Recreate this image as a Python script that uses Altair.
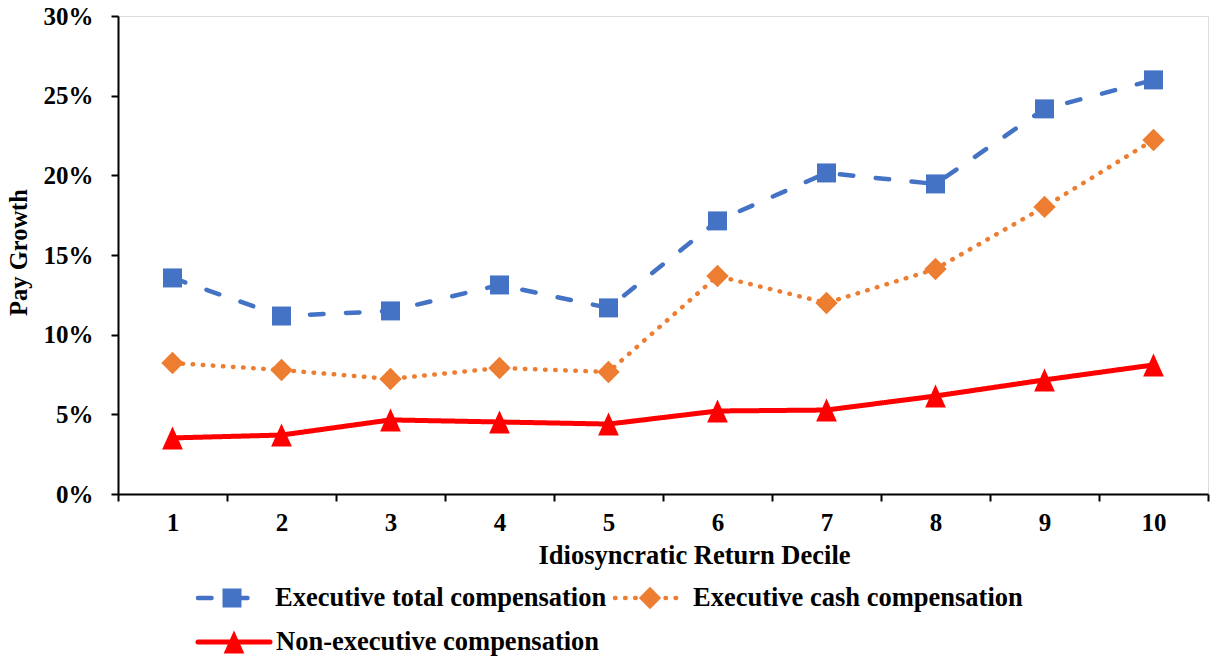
import altair as alt
import pandas as pd

# Pay growth by idiosyncratic return decile
deciles = [1, 2, 3, 4, 5, 6, 7, 8, 9, 10]
exec_total = [0.1356, 0.1117, 0.1149, 0.1312, 0.1168, 0.1714, 0.2015, 0.1946, 0.2417, 0.2599]
exec_cash = [0.0822, 0.0778, 0.0722, 0.0791, 0.0766, 0.1368, 0.1199, 0.1412, 0.1802, 0.2222]
non_exec = [0.0352, 0.0370, 0.0465, 0.0452, 0.0439, 0.0521, 0.0527, 0.0615, 0.0716, 0.0810]

y_ticks = [0, 0.05, 0.10, 0.15, 0.20, 0.25, 0.30]

FONT = "Liberation Serif"
W, H = 1090, 478

series = [
    dict(name="Executive total compensation", values=exec_total, color="#4472C4",
         dash=[13.5, 22.5], width=4.5, shape="square", size=361),
    dict(name="Executive cash compensation", values=exec_cash, color="#ED7D31",
         dash=[0.5, 9.6], width=4.5, shape="diamond", size=500),
    dict(name="Non-executive compensation", values=non_exec, color="#FF0000",
         dash=[1, 0], width=5, shape="M0,-1L0.9,1L-0.9,1Z", size=529),
]

x_enc = alt.X(
    "decile:O",
    scale=alt.Scale(type="band", paddingInner=0, paddingOuter=0),
    axis=alt.Axis(
        title="Idiosyncratic Return Decile", labelAngle=0, tickBand="extent",
        labelFontSize=25, labelFont=FONT, labelFontWeight="bold", labelColor="black",
        labelPadding=9, titleFontSize=26.5, titleFont=FONT, titleFontWeight="bold",
        titleColor="black", titlePadding=7, titleX=576, domainColor="black",
        domainWidth=2, tickColor="black", tickWidth=2, tickSize=7,
    ),
)
y_enc = alt.Y(
    "value:Q",
    scale=alt.Scale(domain=[0, 0.3], nice=False, zero=True),
    axis=alt.Axis(
        title="Pay Growth", values=y_ticks, format=".0%", grid=False,
        labelFontSize=25, labelFont=FONT, labelFontWeight="bold", labelColor="black",
        labelPadding=18, titleFontSize=24.5, titleFont=FONT, titleFontWeight="bold",
        titleColor="black", titleX=-92, titleY=236, titleBaseline="alphabetic",
        domainColor="black", domainWidth=2,
        tickColor="black", tickWidth=2, tickSize=7,
    ),
)

layers = []
for s in series:
    df = pd.DataFrame({"decile": deciles, "value": s["values"], "series": s["name"]})
    base = alt.Chart(df)
    layers.append(
        base.mark_line(color=s["color"], strokeWidth=s["width"], strokeDash=s["dash"],
                       strokeCap="round", strokeJoin="round").encode(x=x_enc, y=y_enc)
    )
    layers.append(
        base.mark_point(shape=s["shape"], size=s["size"], filled=True, opacity=1,
                        color=s["color"], strokeWidth=0).encode(x=x_enc, y=y_enc)
    )

# Legend drawn beneath the plot: swatch line, marker and label per series
legend_pos = [
    dict(x0=80, x1=144, xm=114, xt=157, y=582),
    dict(x0=497, x1=561, xm=532, xt=575, y=582),
    dict(x0=80, x1=152, xm=116, xt=158, y=626),
]
for s, p in zip(series, legend_pos):
    ld = pd.DataFrame({"label": [s["name"]]})
    lb = alt.Chart(ld)
    layers.append(
        lb.mark_rule(color=s["color"], strokeWidth=s["width"], strokeDash=s["dash"],
                     strokeCap="round").encode(
            x=alt.value(p["x0"]), x2=alt.value(p["x1"]), y=alt.value(p["y"]))
    )
    layers.append(
        lb.mark_point(shape=s["shape"], size=s["size"], filled=True, opacity=1,
                      color=s["color"], strokeWidth=0).encode(
            x=alt.value(p["xm"]), y=alt.value(p["y"]))
    )
    layers.append(
        lb.mark_text(align="left", baseline="middle", font=FONT, fontSize=26.5,
                     fontWeight="bold", color="black").encode(
            x=alt.value(p["xt"]), y=alt.value(p["y"]), text="label:N")
    )

chart = alt.layer(*layers).properties(
    width=W, height=H,
    autosize=alt.AutoSizeParams(type="none"),
    padding={"left": 118, "top": 16, "right": 6, "bottom": 168},
).configure_view(stroke=None).configure(background="white")

chart.save("out.html", embed_options={"renderer": "svg", "actions": False})
